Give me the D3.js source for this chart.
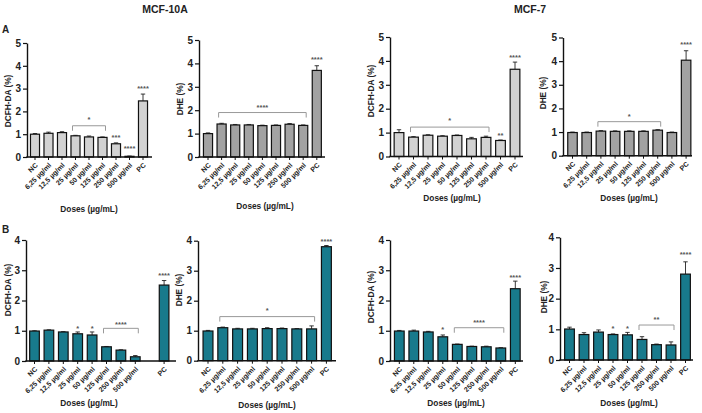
<!DOCTYPE html>
<html><head><meta charset="utf-8">
<script src="https://cdn.jsdelivr.net/npm/d3@7"></script>
<style>body{margin:0;background:#fff} svg{display:block;font-family:Arial,"Liberation Sans",sans-serif}</style>
</head><body><svg id="c" width="702" height="413"></svg>
<script>
// ---------- data ----------
const categories = ["NC","6,25 µg/ml","12,5 µg/ml","25 µg/ml","50 µg/ml","125 µg/ml","250 µg/ml","500 µg/ml","PC"];
const ticksRowA = [0,1,2,3,4,5];
const ticksRowB = [0,1,2,3,4];
const cellTitles = ["MCF-10A","MCF-7"];
const rowLetters = ["A","B"];
const xTitle = "Doses (µg/mL)";

// Row A (MCF-10A / MCF-7)
const dcfhA10    = [1.00,1.04,1.07,0.93,0.88,0.86,0.58,0.03,2.46];
const dcfhA10Err = [0.03,0.05,0.04,0.02,0.04,0.02,0.04,0.01,0.30];
const dheA10     = [1.00,1.41,1.37,1.37,1.34,1.35,1.40,1.35,3.70];
const dheA10Err  = [0.03,0.03,0.02,0.02,0.02,0.02,0.03,0.02,0.20];
const dcfhA7     = [1.00,0.81,0.89,0.85,0.88,0.74,0.80,0.67,3.65];
const dcfhA7Err  = [0.12,0.02,0.02,0.02,0.02,0.06,0.05,0.02,0.30];
const dheA7      = [0.98,0.98,1.04,1.03,1.03,1.03,1.08,0.98,4.04];
const dheA7Err   = [0.02,0.02,0.02,0.02,0.02,0.02,0.02,0.02,0.40];
// Row B
const dcfhB10    = [0.99,1.02,0.96,0.90,0.86,0.47,0.36,0.14,2.51];
const dcfhB10Err = [0.01,0.01,0.01,0.06,0.10,0.01,0.01,0.04,0.15];
const dheB10     = [0.99,1.10,1.06,1.06,1.07,1.07,1.06,1.06,3.80];
const dheB10Err  = [0.02,0.02,0.02,0.02,0.03,0.02,0.01,0.10,0.04];
const dcfhB7     = [0.99,0.99,0.96,0.80,0.55,0.48,0.47,0.43,2.39];
const dcfhB7Err  = [0.02,0.03,0.02,0.06,0.01,0.01,0.02,0.01,0.25];
const dheB7      = [1.01,0.83,0.91,0.83,0.82,0.67,0.50,0.49,2.80];
const dheB7Err   = [0.06,0.06,0.07,0.02,0.08,0.09,0.02,0.10,0.40];

// significance: brackets [fromIndex, toIndex, level, label, labelLevel]; singles [index, label, level]
const bracketsA10dcfh = [[3,5,1.37,"*",1.71]];
const singlesA10dcfh  = [[6,"***",0.94],[7,"****",0.42],[8,"****",3.07]];
const bracketsA10dhe  = [[1,7,1.90,"****",2.19]];
const singlesA10dhe   = [[8,"****",4.25]];
const bracketsA7dcfh  = [[1,6,1.23,"*",1.55]];
const singlesA7dcfh   = [[7,"**",0.95],[8,"****",4.19]];
const bracketsA7dhe   = [[2,6,1.44,"*",1.72]];
const singlesA7dhe    = [[8,"****",4.77]];
const bracketsB10dcfh = [[5,7,1.08,"****",1.25]];
const singlesB10dcfh  = [[3,"*",1.13],[4,"*",1.13],[8,"****",2.88]];
const bracketsB10dhe  = [[1,7,1.47,"*",1.71]];
const singlesB10dhe   = [[8,"****",4.04]];
const bracketsB7dcfh  = [[4,7,1.10,"****",1.32]];
const singlesB7dcfh   = [[3,"*",1.10],[8,"****",2.81]];
const bracketsB7dhe   = [[5,7,1.14,"**",1.36]];
const singlesB7dhe    = [[3,"*",1.09],[4,"*",1.09],[8,"****",3.48]];

// ---------- layout ----------
const LIGHT="#d2d2d2", MID="#a2a2a2", TEAL="#187a8c";
const panels = [
 {v:dcfhA10,e:dcfhA10Err,b:bracketsA10dcfh,s:singlesA10dcfh,ticks:ticksRowA,yl:"DCFH-DA (%)",fill:LIGHT,
  x0:27,c0:35,step:13.5,x1:152,yTop:43,yBot:157,ylx:8.5,yly:101,dx:89,dy:212},
 {v:dheA10,e:dheA10Err,b:bracketsA10dhe,s:singlesA10dhe,ticks:ticksRowA,yl:"DHE (%)",fill:MID,
  x0:199,c0:208,step:13.6,x1:325,yTop:40,yBot:157,ylx:180,yly:99,dx:265,dy:209},
 {v:dcfhA7,e:dcfhA7Err,b:bracketsA7dcfh,s:singlesA7dcfh,ticks:ticksRowA,yl:"DCFH-DA (%)",fill:LIGHT,
  x0:390,c0:399,step:14.5,x1:523,yTop:37,yBot:156.5,ylx:371.5,yly:91,dx:452,dy:201},
 {v:dheA7,e:dheA7Err,b:bracketsA7dhe,s:singlesA7dhe,ticks:ticksRowA,yl:"DHE (%)",fill:MID,
  x0:563,c0:572.5,step:14.2,x1:692,yTop:37.5,yBot:155.7,ylx:543.5,yly:93,dx:629,dy:201},
 {v:dcfhB10,e:dcfhB10Err,b:bracketsB10dcfh,s:singlesB10dcfh,ticks:ticksRowB,yl:"DCFH-DA (%)",fill:TEAL,gap:true,
  x0:26,c0:34.5,step:14.4,x1:176,yTop:240,yBot:361,ylx:8.5,yly:290,dx:89,dy:406},
 {v:dheB10,e:dheB10Err,b:bracketsB10dhe,s:singlesB10dhe,ticks:ticksRowB,yl:"DHE (%)",fill:TEAL,
  x0:198,c0:208,step:14.8,x1:336,yTop:240.7,yBot:360.7,ylx:179.5,yly:290,dx:267,dy:408},
 {v:dcfhB7,e:dcfhB7Err,b:bracketsB7dcfh,s:singlesB7dcfh,ticks:ticksRowB,yl:"DCFH-DA (%)",fill:TEAL,
  x0:390,c0:399.3,step:14.5,x1:523,yTop:240,yBot:361,ylx:371.5,yly:297,dx:456,dy:406},
 {v:dheB7,e:dheB7Err,b:bracketsB7dhe,s:singlesB7dhe,ticks:ticksRowB,yl:"DHE (%)",fill:TEAL,
  x0:560,c0:569.5,step:14.5,x1:693,yTop:237.3,yBot:360,ylx:544,yly:297,dx:629,dy:406}
];

const svg = d3.select("#c");
const PI = 0.33, PO = 0.25;

panels.forEach(p => {
  const g = svg.append("g");
  const domain = p.gap ? [...categories.slice(0,8), "_gap", "PC"] : categories;
  const n = domain.length;
  const start = p.c0 - p.step*(PO + (1-PI)/2);
  const x = d3.scaleBand().domain(domain).range([start, start + p.step*(n - PI + 2*PO)])
              .paddingInner(PI).paddingOuter(PO);
  const yMax = p.ticks[p.ticks.length-1];
  const y = d3.scaleLinear().domain([0,yMax]).range([p.yBot,p.yTop]);
  const bw = x.bandwidth();
  const cx = c => x(c) + bw/2;

  // error bars
  g.selectAll(".err").data(categories).join("g").each(function(c,i){
    const gg = d3.select(this);
    const x0 = cx(c), ya = y(p.v[i]), yb = y(p.v[i]+p.e[i]);
    gg.append("line").attr("x1",x0).attr("x2",x0).attr("y1",ya).attr("y2",yb)
      .attr("stroke","#222").attr("stroke-width",0.9);
    gg.append("line").attr("x1",x0-2.2).attr("x2",x0+2.2).attr("y1",yb).attr("y2",yb)
      .attr("stroke","#222").attr("stroke-width",0.9);
  });
  // bars
  g.selectAll("rect").data(categories).join("rect")
    .attr("x",c=>x(c)).attr("width",bw)
    .attr("y",(c,i)=>y(p.v[i])).attr("height",(c,i)=>p.yBot-y(p.v[i]))
    .attr("fill",p.fill).attr("stroke","#111").attr("stroke-width",1.2);

  // y axis
  const ya = g.append("g").attr("transform",`translate(${p.x0},0)`)
    .call(d3.axisLeft(y).tickValues(p.ticks).tickFormat(d3.format("d")).tickSize(4).tickSizeOuter(0).tickPadding(2));
  ya.select(".domain").attr("stroke","#111").attr("stroke-width",1.4);
  ya.selectAll(".tick line").attr("stroke","#111").attr("stroke-width",1.2);
  ya.selectAll(".tick text").attr("font-size",10).attr("font-weight","bold").attr("fill","#222");

  // x axis line & ticks
  g.append("line").attr("x1",p.x0-0.7).attr("x2",p.x1).attr("y1",p.yBot).attr("y2",p.yBot)
    .attr("stroke","#111").attr("stroke-width",1.4);
  g.selectAll(".xt").data(categories).join("line").attr("class","xt")
    .attr("x1",cx).attr("x2",cx).attr("y1",p.yBot).attr("y2",p.yBot+3)
    .attr("stroke","#111").attr("stroke-width",1);
  g.selectAll(".xl").data(categories).join("text").attr("class","xl")
    .attr("transform",c=>`translate(${cx(c)+1.5},${p.yBot+7}) rotate(-45)`)
    .attr("text-anchor","end").attr("dy","0.35em")
    .attr("font-size",7).attr("font-weight","bold").attr("fill","#222").text(c=>c);

  // axis titles
  g.append("text").attr("transform",`translate(${p.ylx},${p.yly}) rotate(-90)`)
    .attr("text-anchor","middle").attr("dy","0.35em")
    .attr("font-size",8.3).attr("font-weight","bold").attr("fill","#222").text(p.yl);
  g.append("text").attr("x",p.dx).attr("y",p.dy).attr("text-anchor","middle")
    .attr("font-size",8.3).attr("font-weight","bold").attr("fill","#222").text(xTitle);

  // brackets
  p.b.forEach(([a,bi,lvl,lab,ll]) => {
    const xa = cx(categories[a]) - 3, xb = cx(categories[bi]) + 3, yy = y(lvl);
    g.append("path").attr("d",`M${xa},${yy+5}V${yy}H${xb}V${yy+5}`)
      .attr("fill","none").attr("stroke","#999").attr("stroke-width",1);
    g.append("text").attr("x",(xa+xb)/2).attr("y",y(ll)+4).attr("text-anchor","middle")
      .attr("font-size",7.5).attr("font-weight","bold").attr("fill","#555").text(lab);
  });
  p.s.forEach(([i,lab,lvl]) => {
    g.append("text").attr("x",cx(categories[i])).attr("y",y(lvl)+4).attr("text-anchor","middle")
      .attr("font-size",7.5).attr("font-weight","bold").attr("fill","#555").text(lab);
  });
});

// titles & row letters
svg.append("text").attr("x",165).attr("y",13).attr("text-anchor","middle")
  .attr("font-size",10.5).attr("font-weight","bold").attr("fill","#222").text(cellTitles[0]);
svg.append("text").attr("x",530).attr("y",13).attr("text-anchor","middle")
  .attr("font-size",10.5).attr("font-weight","bold").attr("fill","#222").text(cellTitles[1]);
svg.append("text").attr("x",2).attr("y",33).attr("font-size",10).attr("font-weight","bold").attr("fill","#222").text(rowLetters[0]);
svg.append("text").attr("x",2).attr("y",233).attr("font-size",10).attr("font-weight","bold").attr("fill","#222").text(rowLetters[1]);
</script></body></html>
